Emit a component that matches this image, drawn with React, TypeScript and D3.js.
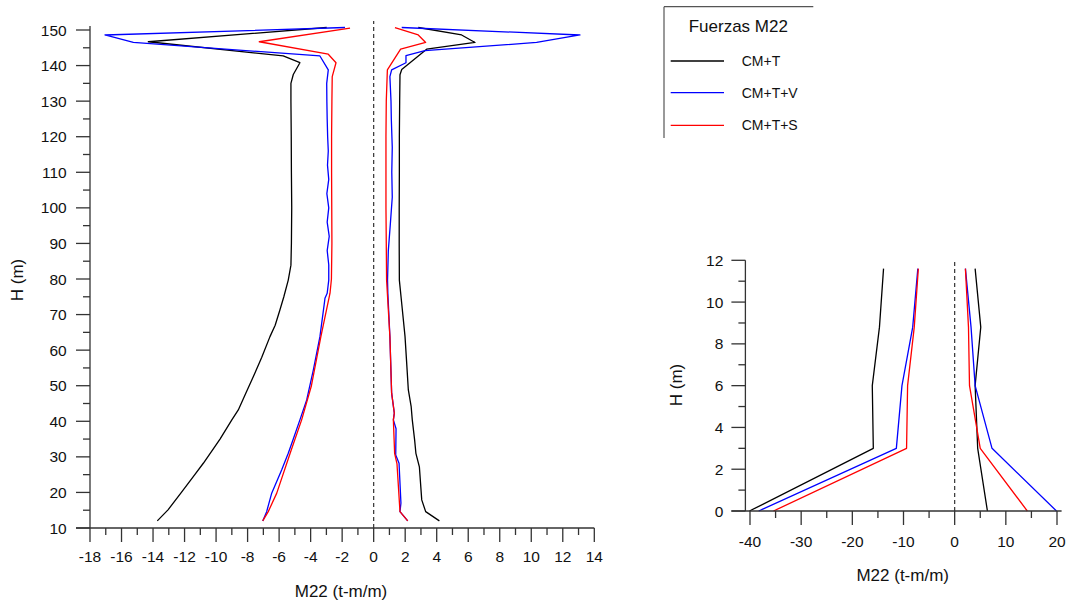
import React from "react";
import * as d3 from "d3";

// ---------- Main chart data (M22 in t-m/m vs H in m), path order ----------
const cmtNegH = [12, 15.1, 20, 25, 28.2, 35, 40.4, 43.2, 48, 52.5, 58, 63.8, 67, 71.3, 75, 79.7, 83.9, 90, 100, 110, 120, 130, 135, 137.5, 140.8, 142.7, 146.7, 150.7];
const cmtNegM = [-13.73, -13.05, -12.2, -11.35, -10.81, -9.75, -9.0, -8.59, -8.1, -7.64, -7.1, -6.58, -6.25, -5.95, -5.7, -5.42, -5.25, -5.22, -5.2, -5.22, -5.23, -5.25, -5.25, -5.1, -4.68, -5.74, -14.3, -2.98];

const cmtPosH = [12, 14.6, 17.9, 27.2, 31, 34.7, 40.4, 44.1, 48.8, 56, 63.8, 73.1, 79.7, 90, 100, 110, 120, 130, 137.4, 138.9, 144.6, 146.5, 148.6, 150.7];
const cmtPosM = [4.17, 3.3, 3.05, 2.9, 2.68, 2.6, 2.45, 2.38, 2.2, 2.1, 1.99, 1.78, 1.63, 1.62, 1.62, 1.63, 1.63, 1.65, 1.67, 1.78, 3.36, 6.43, 5.58, 2.83];

const cmtvNegH = [12, 14.6, 19.8, 26.3, 31, 35, 40.4, 46, 54.4, 63.8, 73.5, 74.6, 76, 79.7, 84, 88, 92, 96, 100, 104, 108, 112, 116, 120, 125, 130, 135, 138.8, 142.7, 146.5, 148.6, 150.7];
const cmtvNegM = [-7.04, -6.79, -6.47, -5.84, -5.42, -5.1, -4.68, -4.25, -3.83, -3.41, -3.12, -3.09, -2.95, -2.85, -2.85, -2.95, -2.82, -2.95, -2.85, -2.97, -2.85, -2.93, -2.88, -2.92, -2.95, -2.97, -2.98, -2.88, -3.41, -15.25, -17.05, -1.82];

const cmtvPosH = [12, 14.6, 17, 28.2, 30.5, 37.9, 40.4, 42.3, 47.9, 63.8, 76, 79.7, 88, 95, 103, 110, 117, 125, 130, 136.9, 138.8, 140.8, 142.8, 144.2, 146.5, 148.6, 150.7];
const cmtvPosM = [2.16, 1.67, 1.73, 1.61, 1.4, 1.42, 1.25, 1.31, 1.14, 1.03, 0.9, 0.88, 0.93, 1.05, 1.18, 1.15, 1.18, 1.12, 1.1, 1.03, 1.14, 2.05, 2.05, 3.25, 10.34, 13.09, 1.78];

const cmtsNegH = [12, 14.6, 19.8, 31, 40.4, 50, 63.8, 76, 80, 90, 100, 110, 120, 130, 136.9, 140.8, 143.2, 146.7, 150.5];
const cmtsNegM = [-7.04, -6.69, -6.15, -5.3, -4.57, -3.95, -3.35, -2.77, -2.68, -2.65, -2.66, -2.67, -2.67, -2.65, -2.63, -2.39, -2.88, -7.26, -1.5];

const cmtsPosH = [12, 14.6, 28, 31, 40.4, 42.3, 47.9, 63.8, 79.7, 90, 100, 110, 120, 130, 138.8, 144.6, 146.5, 148.6, 150.7];
const cmtsPosM = [2.16, 1.67, 1.48, 1.33, 1.25, 1.31, 1.14, 1.03, 0.82, 0.8, 0.78, 0.78, 0.78, 0.8, 0.87, 1.71, 3.3, 2.83, 1.35];

// ---------- Inset chart data ----------
const insetH = [0, 3, 6, 8.8, 11.6];
const insetCmtNeg = [-40.1, -15.9, -16.1, -14.7, -13.9];
const insetCmtvNeg = [-38.3, -11.4, -10.3, -8.2, -7.2];
const insetCmtsNeg = [-35.4, -9.4, -9.2, -7.9, -7.1];
const insetCmtPos = [6.4, 4.5, 4.0, 5.1, 4.0];
const insetCmtvPos = [19.9, 7.3, 4.0, 3.2, 2.1];
const insetCmtsPos = [14.2, 5.0, 2.9, 2.7, 2.1];

// ---------- Labels ----------
const seriesNames = ["CM+T", "CM+T+V", "CM+T+S"];
const seriesColors = ["#000000", "#0000ff", "#ff0000"];
const legendTitle = "Fuerzas M22";
const xTitle = "M22 (t-m/m)";
const yTitle = "H (m)";

const mainXTicks = d3.range(-18, 15, 2);
const mainXMinor = d3.range(-17, 14, 2);
const mainYTicks = d3.range(10, 151, 10);
const mainYMinor = d3.range(15, 150, 10);
const insetXTicks = d3.range(-40, 21, 10);
const insetXMinor = d3.range(-35, 20, 10);
const insetYTicks = d3.range(0, 13, 2);
const insetYMinor = d3.range(1, 12, 2);

const FONT = "Arial, 'Liberation Sans', sans-serif";
const AX = "#333";

function zip(ms: number[], hs: number[]) {
  return ms.map((m, i) => [m, hs[i]] as [number, number]);
}

function Axes(props: {
  x: d3.ScaleLinear<number, number>;
  y: d3.ScaleLinear<number, number>;
  xTicks: number[];
  xMinor: number[];
  yTicks: number[];
  yMinor: number[];
  yAxisX: number;
  yTop: number;
  xRight: number;
  xLabelY: number;
  yLabelX: number;
  xTitlePos: [number, number];
  yTitlePos: [number, number];
}) {
  const { x, y, xTicks, xMinor, yTicks, yMinor, yAxisX, yTop, xRight, xLabelY, yLabelX, xTitlePos, yTitlePos } = props;
  const y0 = y(y.domain()[0]);
  const major = 14;
  const minor = 7;
  return (
    <g>
      <line x1={yAxisX} x2={yAxisX} y1={yTop} y2={y0} stroke={AX} strokeWidth={1.3} />
      <line x1={yAxisX - major} x2={xRight} y1={y0} y2={y0} stroke={AX} strokeWidth={1.3} />
      {xTicks.map((t) => (
        <g key={"xt" + t}>
          <line x1={x(t)} x2={x(t)} y1={y0} y2={y0 + major} stroke={AX} strokeWidth={1.3} />
          <text x={x(t)} y={xLabelY} textAnchor="middle" dominantBaseline="central" fontFamily={FONT} fontSize={15.5} fill="#111">
            {t}
          </text>
        </g>
      ))}
      {xMinor.map((t) => (
        <line key={"xm" + t} x1={x(t)} x2={x(t)} y1={y0} y2={y0 + minor} stroke={AX} strokeWidth={1.3} />
      ))}
      {yTicks.map((t) => (
        <g key={"yt" + t}>
          <line x1={yAxisX - major} x2={yAxisX} y1={y(t)} y2={y(t)} stroke={AX} strokeWidth={1.3} />
          <text x={yLabelX} y={y(t)} textAnchor="end" dominantBaseline="central" fontFamily={FONT} fontSize={15.5} fill="#111">
            {t}
          </text>
        </g>
      ))}
      {yMinor.map((t) => (
        <line key={"ym" + t} x1={yAxisX - minor} x2={yAxisX} y1={y(t)} y2={y(t)} stroke={AX} strokeWidth={1.3} />
      ))}
      <text x={xTitlePos[0]} y={xTitlePos[1]} textAnchor="middle" dominantBaseline="central" fontFamily={FONT} fontSize={17} fill="#111">
        {xTitle}
      </text>
      <text
        transform={`translate(${yTitlePos[0]},${yTitlePos[1]}) rotate(-90)`}
        textAnchor="middle"
        dominantBaseline="central"
        fontFamily={FONT}
        fontSize={17}
        fill="#111"
      >
        {yTitle}
      </text>
    </g>
  );
}

export default function App() {
  // main chart scales
  const mx = d3.scaleLinear().domain([-18, 14]).range([90, 594.3]);
  const my = d3.scaleLinear().domain([10, 150]).range([528, 30]);
  const mline = d3
    .line<[number, number]>()
    .x((d) => mx(d[0]))
    .y((d) => my(d[1]));

  // inset scales
  const ix = d3.scaleLinear().domain([-40, 20]).range([750, 1057]);
  const iy = d3.scaleLinear().domain([0, 12]).range([511, 260.3]);
  const iline = d3
    .line<[number, number]>()
    .x((d) => ix(d[0]))
    .y((d) => iy(d[1]));

  const mainSeries = [
    [zip(cmtNegM, cmtNegH), zip(cmtPosM, cmtPosH)],
    [zip(cmtvNegM, cmtvNegH), zip(cmtvPosM, cmtvPosH)],
    [zip(cmtsNegM, cmtsNegH), zip(cmtsPosM, cmtsPosH)],
  ];
  const insetSeries = [
    [zip(insetCmtNeg, insetH), zip(insetCmtPos, insetH)],
    [zip(insetCmtvNeg, insetH), zip(insetCmtvPos, insetH)],
    [zip(insetCmtsNeg, insetH), zip(insetCmtsPos, insetH)],
  ];

  const legendYs = [61, 92.7, 125.3];

  return (
    <svg
      width={1069}
      height={606}
      style={{ position: "absolute", left: 0, top: 0, background: "#fff" }}
    >
      <rect x={0} y={0} width={1069} height={606} fill="#fff" />
      {/* Main chart */}
      <line x1={mx(0)} x2={mx(0)} y1={my(10)} y2={21} stroke={AX} strokeWidth={1.2} strokeDasharray="4,3" />
      {mainSeries.map((pair, i) =>
        pair.map((pts, j) => (
          <path key={`m${i}${j}`} d={mline(pts) || ""} fill="none" stroke={seriesColors[i]} strokeWidth={1.3} strokeLinejoin="round" />
        ))
      )}
      <Axes
        x={mx}
        y={my}
        xTicks={mainXTicks}
        xMinor={mainXMinor}
        yTicks={mainYTicks}
        yMinor={mainYMinor}
        yAxisX={mx(-18)}
        yTop={26}
        xRight={mx(14)}
        xLabelY={556.7}
        yLabelX={66.7}
        xTitlePos={[341, 591.7]}
        yTitlePos={[17, 280]}
      />

      {/* Inset chart */}
      <line x1={ix(0)} x2={ix(0)} y1={iy(0)} y2={iy(12)} stroke={AX} strokeWidth={1.2} strokeDasharray="4,3" />
      {insetSeries.map((pair, i) =>
        pair.map((pts, j) => (
          <path key={`i${i}${j}`} d={iline(pts) || ""} fill="none" stroke={seriesColors[i]} strokeWidth={1.3} strokeLinejoin="round" />
        ))
      )}
      <Axes
        x={ix}
        y={iy}
        xTicks={insetXTicks}
        xMinor={insetXMinor}
        yTicks={insetYTicks}
        yMinor={insetYMinor}
        yAxisX={ix(-40.9)}
        yTop={iy(12)}
        xRight={ix(20.9)}
        xLabelY={541.7}
        yLabelX={723.3}
        xTitlePos={[902.7, 575]}
        yTitlePos={[676, 385]}
      />

      {/* Legend */}
      <line x1={664} x2={813.3} y1={6.7} y2={6.7} stroke="#555" strokeWidth={1.2} />
      <line x1={664} x2={664} y1={6.7} y2={138} stroke="#555" strokeWidth={1.2} />
      <text x={738.3} y={26} textAnchor="middle" dominantBaseline="central" fontFamily={FONT} fontSize={17} fill="#111">
        {legendTitle}
      </text>
      {seriesNames.map((name, i) => (
        <g key={name}>
          <line x1={670.7} x2={724} y1={legendYs[i]} y2={legendYs[i]} stroke={seriesColors[i]} strokeWidth={1.3} />
          <text x={741.7} y={legendYs[i]} dominantBaseline="central" fontFamily={FONT} fontSize={14} fill="#111">
            {name}
          </text>
        </g>
      ))}
    </svg>
  );
}
